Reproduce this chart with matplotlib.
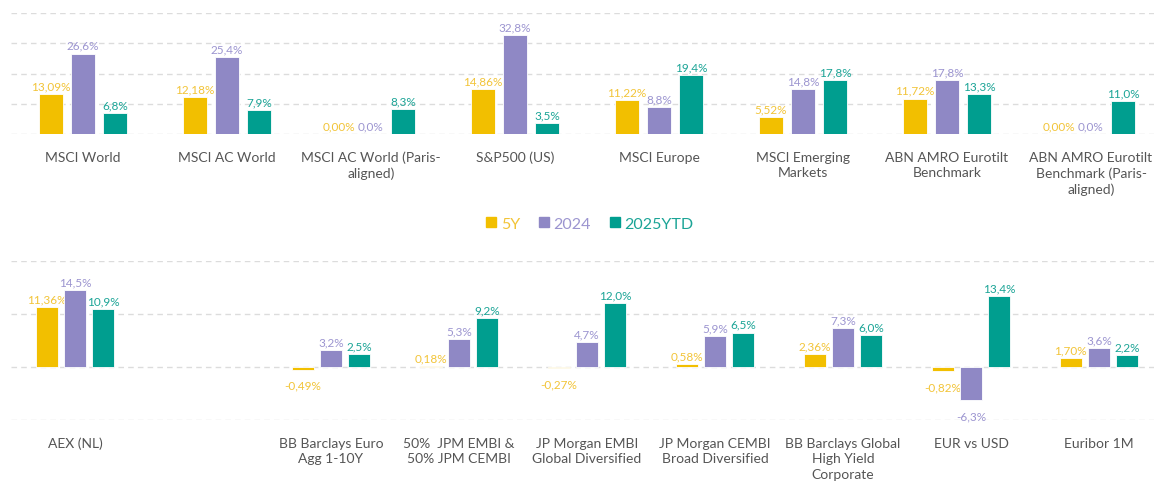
import matplotlib.pyplot as plt
import matplotlib.patches as mpatches
import numpy as np

plt.rcParams['font.family'] = ['Lato', 'DejaVu Sans']

# Rendementen per index (%)
series = ['5Y', '2024', '2025YTD']

top_labels = ['MSCI World', 'MSCI AC World', 'MSCI AC World (Paris-\naligned)', 'S&P500 (US)',
              'MSCI Europe', 'MSCI Emerging\nMarkets', 'ABN AMRO Eurotilt\nBenchmark',
              'ABN AMRO Eurotilt\nBenchmark (Paris-\naligned)']
top_5y = [13.09, 12.18, 0.00, 14.86, 11.22, 5.52, 11.72, 0.00]
top_2024 = [26.6, 25.4, 0.0, 32.8, 8.8, 14.8, 17.8, 0.0]
top_2025 = [6.8, 7.9, 8.3, 3.5, 19.4, 17.8, 13.3, 11.0]

bottom_labels = ['AEX (NL)', '', 'BB Barclays Euro\nAgg 1-10Y', '50%  JPM EMBI &\n50% JPM CEMBI',
                 'JP Morgan EMBI\nGlobal Diversified', 'JP Morgan CEMBI\nBroad Diversified',
                 'BB Barclays Global\nHigh Yield\nCorporate', 'EUR vs USD', 'Euribor 1M']
bottom_5y = [11.36, np.nan, -0.49, 0.18, -0.27, 0.58, 2.36, -0.82, 1.70]
bottom_2024 = [14.5, np.nan, 3.2, 5.3, 4.7, 5.9, 7.3, -6.3, 3.6]
bottom_2025 = [10.9, np.nan, 2.5, 9.2, 12.0, 6.5, 6.0, 13.4, 2.2]

bar_colors = ['#F2BF00', '#8F88C5', '#009E8F']
text_colors = ['#F2C438', '#9C95D0', '#1BA496']
decimals = [2, 1, 1]

W, H = 1154, 485
fig = plt.figure(figsize=(W / 100, H / 100), dpi=100)

# assen iets breder dan de figuur, net als in het origineel
ax_top = fig.add_axes([11 / W, 1 - 135 / H, 1152 / W, 121 / H])
ax_bot = fig.add_axes([11 / W, 1 - 421 / H, 1152 / W, 159 / H])

width = 0.172
pitch = 0.222


def draw_panel(ax, labels, data, ylim, ticks):
    x = np.arange(len(labels), dtype=float)
    for i, vals in enumerate(data):
        vals = np.array(vals, dtype=float)
        pos = x + (i - 1) * pitch
        ax.bar(pos, vals, width, color=bar_colors[i], edgecolor='white', linewidth=0.6, zorder=3)
        for px, v in zip(pos, vals):
            if np.isnan(v):
                continue
            txt = f'{v:.{decimals[i]}f}'.replace('.', ',') + '%'
            if v >= 0:
                ax.annotate(txt, xy=(px, v), xytext=(0, 2), textcoords='offset points',
                            ha='center', va='bottom', fontsize=8.5, color=text_colors[i])
            else:
                ax.annotate(txt, xy=(px, v), xytext=(0, -7), textcoords='offset points',
                            ha='center', va='top', fontsize=8.5, color=text_colors[i])
    ax.set_xlim(-0.5, len(labels) - 0.5)
    ax.set_ylim(*ylim)
    ax.set_yticks(ticks)
    ax.yaxis.grid(True, linestyle=(0, (4, 3)), color='#dcdcdc', linewidth=1, zorder=0)
    ax.set_xticks(x)
    ax.set_xticklabels(labels, fontsize=10, color='#555555', linespacing=1.35, va='top')
    ax.tick_params(axis='x', length=0, pad=12)
    ax.tick_params(axis='y', length=0, labelleft=False)
    for s in ax.spines.values():
        s.set_visible(False)


draw_panel(ax_top, top_labels, [top_5y, top_2024, top_2025], (0, 40), [0, 10, 20, 30, 40])
draw_panel(ax_bot, bottom_labels, [bottom_5y, bottom_2024, bottom_2025], (-10, 20), [-10, 0, 10, 20])

handles = [mpatches.Patch(color=c, label=s) for c, s in zip(bar_colors, series)]
leg = fig.legend(handles=handles, loc='center', bbox_to_anchor=(590 / W, 1 - 225 / H), ncol=3,
                 frameon=False, fontsize=11.5, handlelength=0.6, handleheight=0.6,
                 handletextpad=0.3, columnspacing=1.2)
for t, c in zip(leg.get_texts(), text_colors):
    t.set_color(c)

fig.savefig('out.png', dpi=100)
